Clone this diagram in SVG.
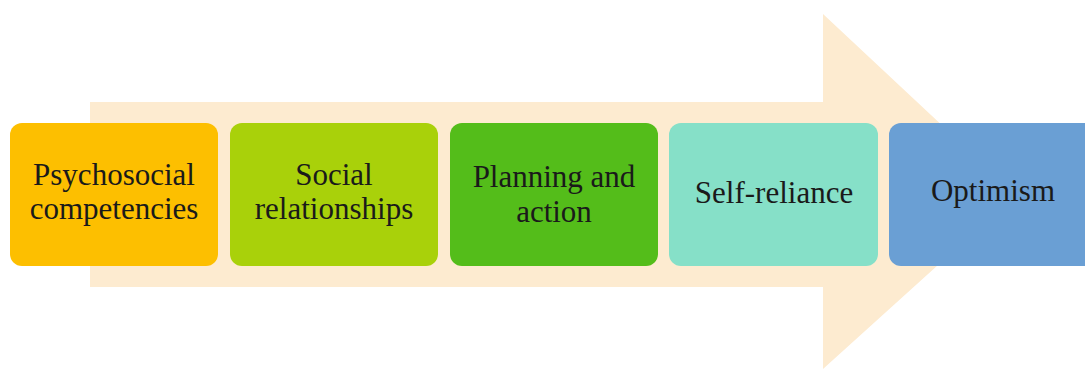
<svg xmlns="http://www.w3.org/2000/svg" width="1085" height="369" viewBox="0 0 1085 369">
<style>
.box{rx:12;ry:12}
.t{font-family:"Liberation Serif","Times New Roman",serif;font-size:31px;fill:#1a1a1a;text-anchor:middle}
</style>
<rect width="1085" height="369" fill="#ffffff"/>
<g id="arrow">
<polygon points="90,102 823,102 823,14 1016,194.5 823,369 823,287 90,287" fill="#FDEBD0"/>
</g>
<g id="connectors"></g>
<g id="n1">
<rect class="box" x="10" y="123" width="208" height="143" rx="12" fill="#FDBF00"/>
<text class="t" x="114" y="185">Psychosocial</text>
<text class="t" x="114" y="219">competencies</text>
</g>
<g id="n2">
<rect class="box" x="230" y="123" width="208" height="143" rx="12" fill="#A9D10A"/>
<text class="t" x="334" y="185">Social</text>
<text class="t" x="334" y="219">relationships</text>
</g>
<g id="n3">
<rect class="box" x="450" y="123" width="208" height="143" rx="12" fill="#54BD1A"/>
<text class="t" x="554" y="187">Planning and</text>
<text class="t" x="554" y="222">action</text>
</g>
<g id="n4">
<rect class="box" x="669" y="123" width="209" height="143" rx="12" fill="#86E0C8"/>
<text class="t" x="774" y="203">Self-reliance</text>
</g>
<g id="n5">
<rect class="box" x="889" y="123" width="208" height="143" rx="12" fill="#6A9FD4"/>
<text class="t" x="993" y="201">Optimism</text>
</g>
</svg>
